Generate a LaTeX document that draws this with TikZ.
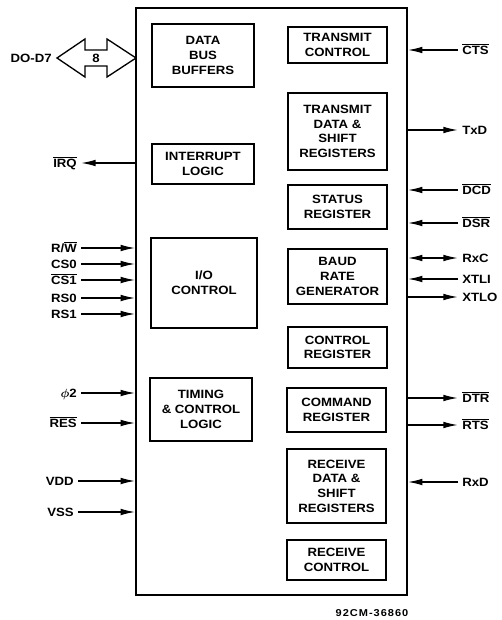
\documentclass[tikz,border=0pt]{standalone}
\usepackage{fontspec}
\usepackage{amsmath}
\setmainfont{Liberation Sans}[FakeStretch=1.1]
\newfontfamily\partfont{Liberation Sans}[FakeStretch=1.1,LetterSpace=10]
\usetikzlibrary{arrows.meta}
\newcommand{\ovl}[1]{$\overline{\hbox{#1}}$}
\tikzset{
  chip/.style={draw, line width=1.1pt, minimum width=203.25pt, minimum height=440.25pt, inner sep=0pt},
  block/.style={draw, line width=1.4pt, align=center, inner sep=0pt, font=\bfseries\fontsize{9}{11}\selectfont},
  lbl/.style={inner xsep=3pt, inner ysep=0pt, text height=6.4pt, text depth=0pt, font=\bfseries\fontsize{9}{11}\selectfont},
  sig/.style={line width=1.1pt, -{Latex[length=11pt,width=5pt]}},
  sigboth/.style={line width=1.1pt, {Latex[length=11pt,width=5pt]}-{Latex[length=11pt,width=5pt]}},
}
\begin{document}
\begin{tikzpicture}[x=0.75pt,y=0.75pt,yscale=-1,xscale=1]
	\useasboundingbox (0,0) rectangle (501,620);

	% chip outline
	\node[chip] (chip) at (271.5,301.5) {};

	% left column of blocks
	\node[block, minimum width=76.5pt, minimum height=47.25pt] (dbuf) at (203,55.5) {DATA\\BUS\\BUFFERS};
	\node[block, minimum width=76.5pt, minimum height=30pt] (irqlogic) at (203,164) {INTERRUPT\\LOGIC};
	\node[block, minimum width=79.5pt, minimum height=67.5pt] (ioctl) at (204,283) {I/O\\CONTROL};
	\node[block, minimum width=76.5pt, minimum height=47.25pt] (timing) at (201,409.5) {TIMING\\\& CONTROL\\LOGIC};

	% right column of blocks
	\node[block, minimum width=74.25pt, minimum height=27pt] (txctl) at (337.5,45) {TRANSMIT\\CONTROL};
	\node[block, minimum width=74.25pt, minimum height=57.75pt] (txdata) at (337.5,131.5) {TRANSMIT\\DATA \&\\SHIFT\\REGISTERS};
	\node[block, minimum width=74.25pt, minimum height=33pt] (status) at (337.5,207) {STATUS\\REGISTER};
	\node[block, minimum width=74.25pt, minimum height=41.25pt] (baud) at (337.5,276.5) {BAUD\\RATE\\GENERATOR};
	\node[block, minimum width=74.25pt, minimum height=30.75pt] (ctlreg) at (337.5,347.5) {CONTROL\\REGISTER};
	\node[block, minimum width=74.25pt, minimum height=33pt] (cmdreg) at (336.5,410) {COMMAND\\REGISTER};
	\node[block, minimum width=74.25pt, minimum height=55.5pt] (rxdata) at (336.5,486) {RECEIVE\\DATA \&\\SHIFT\\REGISTERS};
	\node[block, minimum width=74.25pt, minimum height=30pt] (rxctl) at (336.5,560) {RECEIVE\\CONTROL};

	% data bus
	\draw[line width=1pt, fill=white] (57,58) -- (85,39) -- (85,50) -- (107,50) -- (107,39) -- (136,58) -- (107,77) -- (107,66) -- (85,66) -- (85,77) -- cycle;
	\node[lbl, inner xsep=0pt] (buswidth) at (96,58) {8};
	\node[lbl, anchor=east] (dbus) at (56,58) {DO-D7};

	% left signals
	\node[lbl, anchor=east] (irq) at (81,163) {\ovl{IRQ}};
	\draw[sig] (irq.east -| chip.west) -- (irq.east);
	\node[lbl, anchor=east] (rw) at (81,248) {R/\ovl{W}};
	\draw[sig] (rw.east) -- (rw.east -| chip.west);
	\node[lbl, anchor=east] (cs0) at (81,264) {CS0};
	\draw[sig] (cs0.east) -- (cs0.east -| chip.west);
	\node[lbl, anchor=east] (cs1) at (81,280) {\ovl{CS1}};
	\draw[sig] (cs1.east) -- (cs1.east -| chip.west);
	\node[lbl, anchor=east] (rs0) at (81,298) {RS0};
	\draw[sig] (rs0.east) -- (rs0.east -| chip.west);
	\node[lbl, anchor=east] (rs1) at (81,314) {RS1};
	\draw[sig] (rs1.east) -- (rs1.east -| chip.west);
	\node[lbl, anchor=east] (phi) at (81,393) {$\boldsymbol{\phi}$2};
	\draw[sig] (phi.east) -- (phi.east -| chip.west);
	\node[lbl, anchor=east] (res) at (81,423) {\ovl{RES}};
	\draw[sig] (res.east) -- (res.east -| chip.west);
	\node[lbl, anchor=east] (vdd) at (78,481) {VDD};
	\draw[sig] (vdd.east) -- (vdd.east -| chip.west);
	\node[lbl, anchor=east] (vss) at (78,512) {VSS};
	\draw[sig] (vss.east) -- (vss.east -| chip.west);

	% right signals
	\node[lbl, anchor=west] (cts) at (458,50) {\ovl{CTS}};
	\draw[sig] (cts.west) -- (cts.west -| chip.east);
	\node[lbl, anchor=west] (txd) at (458,130) {TxD};
	\draw[sig] (txd.west -| chip.east) -- (txd.west);
	\node[lbl, anchor=west] (dcd) at (458,190) {\ovl{DCD}};
	\draw[sig] (dcd.west) -- (dcd.west -| chip.east);
	\node[lbl, anchor=west] (dsr) at (458,223) {\ovl{DSR}};
	\draw[sig] (dsr.west) -- (dsr.west -| chip.east);
	\node[lbl, anchor=west] (rxc) at (458,258) {RxC};
	\draw[sigboth] (rxc.west -| chip.east) -- (rxc.west);
	\node[lbl, anchor=west] (xtli) at (458,279) {XTLI};
	\draw[sig] (xtli.west) -- (xtli.west -| chip.east);
	\node[lbl, anchor=west] (xtlo) at (458,297) {XTLO};
	\draw[sig] (xtlo.west -| chip.east) -- (xtlo.west);
	\node[lbl, anchor=west] (dtr) at (458,398) {\ovl{DTR}};
	\draw[sig] (dtr.west -| chip.east) -- (dtr.west);
	\node[lbl, anchor=west] (rts) at (458,425) {\ovl{RTS}};
	\draw[sig] (rts.west -| chip.east) -- (rts.west);
	\node[lbl, anchor=west] (rxd) at (458,482) {RxD};
	\draw[sig] (rxd.west) -- (rxd.west -| chip.east);

	% part number
	\node[font=\partfont\bfseries\fontsize{7.5}{9}\selectfont] (partno) at (372,613) {92CM-36860};

\end{tikzpicture}
\end{document}
